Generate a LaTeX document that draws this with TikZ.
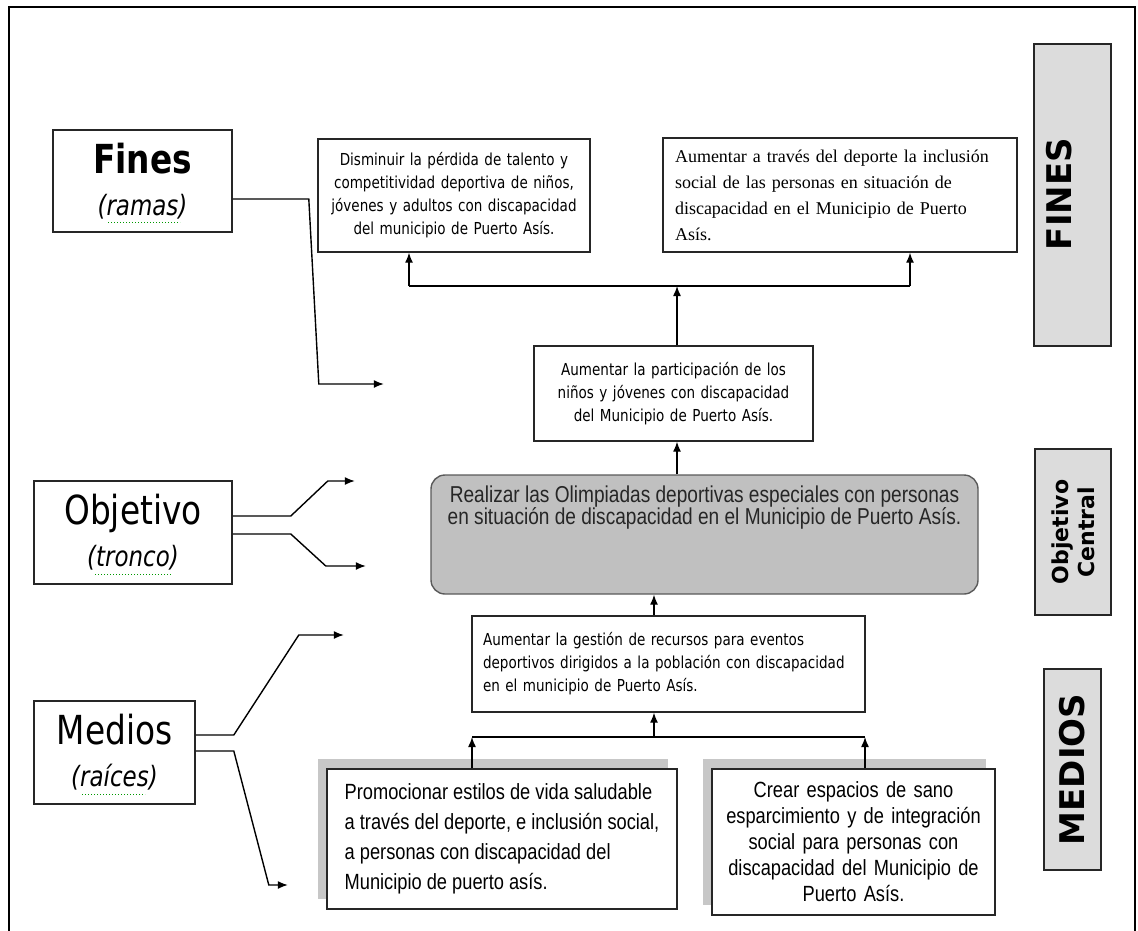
\documentclass[tikz,border=0pt]{standalone}
\usepackage{fontspec}
\usepackage{tikz}
\usetikzlibrary{positioning,arrows.meta,shadows}
\setmainfont{Liberation Serif}
\newfontfamily\tahomafont[FakeStretch=0.82]{DejaVu Sans}
\newfontfamily\narrowfont[FakeStretch=0.83]{Liberation Sans}
\newfontfamily\verdanafont{DejaVu Sans}
\definecolor{boxline}{HTML}{262626}
\definecolor{sidefill}{HTML}{DCDCDC}
\definecolor{goalfill}{HTML}{C0C0C0}
\definecolor{goalline}{HTML}{5A5A5A}
\tikzset{
  % --- left-hand tags (ramas / tronco / raices) ----------------------------
  tag/.style={draw=boxline,line width=1.6pt,fill=white,inner sep=0pt,
              align=center,font=\tahomafont\fontsize{28}{42}\selectfont},
  spell/.style={green!60!black,line width=1pt,dotted},
  % --- tree cells ------------------------------------------------------------
  cell/.style={draw=boxline,line width=1.4pt,fill=white,inner xsep=11pt,
               inner ysep=0pt,font=\tahomafont\fontsize{16.5}{23}\selectfont},
  mean/.style={cell,general shadow={fill=black!22,shadow xshift=-9pt,
               shadow yshift=10pt},font=\narrowfont\fontsize{22}{30}\selectfont},
  goal/.style={draw=goalline,fill=goalfill,line width=1.4pt,
               rounded corners=14pt,inner sep=0pt},
  goaltxt/.style={inner sep=0pt,align=center,text=black!85,
                  font=\narrowfont\fontsize{23}{22}\selectfont},
  % --- right-hand bands -----------------------------------------------------
  band/.style={draw=boxline,fill=sidefill,line width=1.4pt,inner sep=0pt},
  bandtxt/.style={rotate=90,inner sep=0pt,align=center,
                  font=\verdanafont\bfseries\fontsize{34}{34}\selectfont},
  % --- connectors -----------------------------------------------------------
  link/.style={line width=1.4pt,black},
  arr/.style={link,-{Latex[length=10pt,width=8pt]}},
}
\begin{document}
\begin{tikzpicture}[x=1pt,y=-1pt]
  \useasboundingbox (0,0) rectangle (1138,931);
  \draw[line width=1.8pt] (9,931) -- (9,7) -- (1135,7) -- (1135,931);

  % left tags
  \node[tag,minimum width=179pt,minimum height=102pt] (fines) at (142.5,181)
    {{\bfseries\fontsize{40}{40}\selectfont Fines}\\{\itshape(ramas)}};
  \node[tag,minimum width=198pt,minimum height=103pt] (tronco) at (133,532.5)
    {{\fontsize{40}{40}\selectfont Objetivo}\\{\itshape(tronco)}};
  \node[tag,minimum width=161pt,minimum height=103pt] (raices) at (114.5,752.5)
    {{\fontsize{40}{40}\selectfont Medios}\\{\itshape(raíces)}};
  \draw[spell] (108,222) -- (180,222);
  \draw[spell] (95,574) -- (172,574);
  \draw[spell] (82,794) -- (145,794);

  % fines
  \node[cell,text width=250pt,minimum height=113pt,align=center] (talento) at (454,195.5)
    {Disminuir la pérdida de talento y\\competitividad deportiva de niños,\\
     jóvenes y adultos con discapacidad\\del municipio de Puerto Asís.};
  \node[cell,text width=330pt,inner xsep=12pt,minimum height=114pt,align=left,
        font=\fontsize{18}{26}\selectfont] (inclusion) at (840,195)
    {Aumentar a través del deporte la inclusión\\social de las personas en situación de\\
     discapacidad en el Municipio de Puerto\\Asís.};
  \node[cell,text width=259pt,inner xsep=10pt,minimum height=95pt,align=center] (particip) at (673.5,393.5)
    {Aumentar la participación de los\\niños y jóvenes con discapacidad\\del Municipio de Puerto Asís.};

  % objetivo central
  \node[goal,minimum width=547pt,minimum height=119pt] (olimp) at (704.5,534.5) {};
  \node[goaltxt,anchor=north] (olimptxt) at (704.5,486)
    {Realizar las Olimpiadas deportivas especiales con personas\\
     en situación de discapacidad en el Municipio de Puerto Asís.};

  % medios
  \node[cell,text width=371pt,minimum height=96pt,align=left] (gestion) at (668.5,664)
    {Aumentar la gestión de recursos para eventos\\deportivos dirigidos a la población con discapacidad\\
     en el municipio de Puerto Asís.};
  \node[mean,minimum width=350pt,minimum height=140pt,align=left] (estilos) at (502,839)
    {Promocionar estilos de vida saludable\\a través del deporte, e inclusión social,\\
     a personas con discapacidad del\\Municipio de puerto asís.};
  \node[mean,text width=263pt,inner xsep=10pt,minimum height=146pt,align=center,
        font=\narrowfont\fontsize{22}{26}\selectfont] (espacios) at (853.5,842)
    {Crear espacios de sano\\esparcimiento y de integración\\social para personas con\\
     discapacidad del Municipio de\\Puerto Asís.};

  % right bands
  \node[band,minimum width=77pt,minimum height=302pt] (bfines) at (1072.5,195) {};
  \node[bandtxt] (bfinestxt) at (1059,194) {FINES};
  \node[band,minimum width=76pt,minimum height=166pt] (bobj) at (1073,532) {};
  \node[bandtxt,font=\verdanafont\bfseries\fontsize{22}{26}\selectfont] (bobjtxt)
    at (bobj.center) {Objetivo\\Central};
  \node[band,minimum width=57pt,minimum height=201pt] (bmed) at (1072.5,769.5) {};
  \node[bandtxt] (bmedtxt) at (bmed.center) {MEDIOS};

  % tree links, top
  \coordinate (tl) at (409,286);
  \coordinate (tm) at (677,286);
  \coordinate (tr) at (910,286);
  \draw[link] (tl) -- (tr);
  \draw[arr] (tl) -- (tl |- talento.south);
  \draw[arr] (tr) -- (tr |- inclusion.south);
  \draw[arr] (tm |- particip.north) -- (tm);
  \draw[arr] (tm |- olimp.north) -- (tm |- particip.south);
  \draw[arr] ([xshift=-14.5pt]gestion.north) -- ([xshift=-14.5pt]gestion.north |- olimp.south);

  % tree links, bottom
  \coordinate (bl) at (472,737);
  \coordinate (br) at (865,737);
  \draw[link] (bl) -- (br);
  \draw[arr] ([xshift=-14.5pt]gestion.south |- bl) -- ([xshift=-14.5pt]gestion.south);
  \draw[arr] (bl |- estilos.north) -- (bl);
  \draw[arr] (br |- espacios.north) -- (br);

  % tag pointers
  \draw[arr] ([yshift=-18pt]fines.east) -- ++(76,0) -- ++(10,185) -- ++(65,0);
  \draw[arr] ([yshift=16.5pt]tronco.east) -- ++(58,0) -- ++(37,-35) -- ++(27,0);
  \draw[arr] ([yshift=-1.5pt]tronco.east) -- ++(58,0) -- ++(35,32) -- ++(40,0);
  \draw[arr] ([yshift=17.5pt]raices.east) -- ++(38,0) -- ++(65,-100) -- ++(45,0);
  \draw[arr] ([yshift=1.5pt]raices.east) -- ++(38,0) -- ++(35,134) -- ++(19,0);
\end{tikzpicture}
\end{document}
